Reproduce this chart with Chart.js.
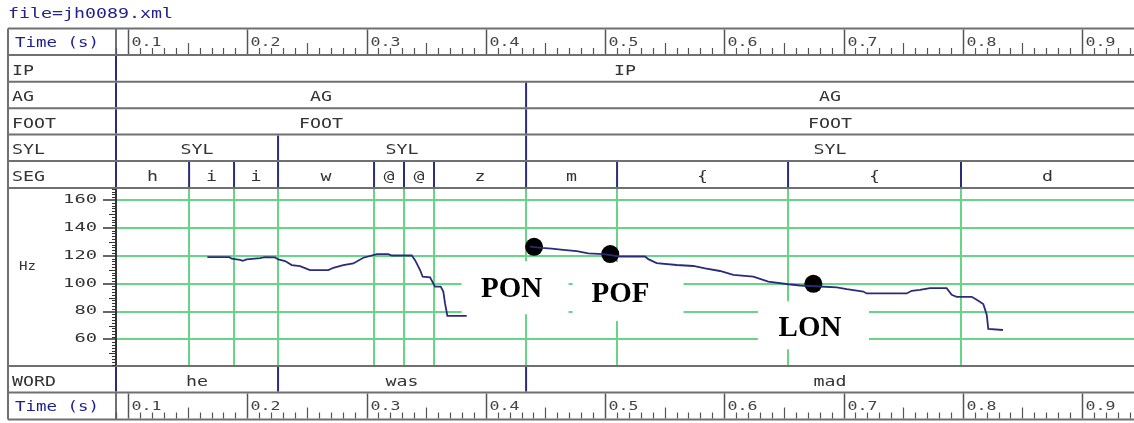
<!DOCTYPE html>
<html>
<head>
<meta charset="utf-8">
<script src="https://cdn.jsdelivr.net/npm/chart.js@4.4.1/dist/chart.umd.min.js"></script>
<style>
  html, body { margin: 0; padding: 0; background: #fff; }
  #wrap { width: 1134px; height: 423px; }
</style>
</head>
<body>
<div id="wrap"><canvas id="f0Chart" width="1134" height="423"></canvas></div>
<script>
// utterance file + time window (s)
var fileName = 'file=jh0089.xml';
var tStart = 0.0899;
var tEnd = 0.9436;

// annotation tiers: labels and start times (each item runs to the next start / tEnd)
var ipLabels = ['IP'];
var ipStarts = [0.0899];
var agLabels = ['AG', 'AG'];
var agStarts = [0.0899, 0.4338];
var footLabels = ['FOOT', 'FOOT'];
var footStarts = [0.0899, 0.4338];
var sylLabels = ['SYL', 'SYL', 'SYL'];
var sylStarts = [0.0899, 0.2258, 0.4338];
var segLabels = ['h', 'i', 'i', 'w', '@', '@', 'z', 'm', '{', '{', 'd'];
var segStarts = [0.0899, 0.1512, 0.1889, 0.2258, 0.3063, 0.3314, 0.3566, 0.4338, 0.5101, 0.6535, 0.7985];
var wordLabels = ['he', 'was', 'mad'];
var wordStarts = [0.0899, 0.2258, 0.4338];

// Hz axis
var hzMin = 41;
var hzMax = 168.6;
var hzTicks = [60, 80, 100, 120, 140, 160];

// F0 contour, voiced stretch 1 ("he was")
var f0Time1 = [0.1665, 0.1849, 0.1870, 0.1939, 0.1962, 0.1995, 0.2107, 0.2149, 0.2233, 0.2260,
               0.2317, 0.2373, 0.2442, 0.2526, 0.2680, 0.2722, 0.2805, 0.2889, 0.2973, 0.3057,
               0.3086, 0.3183, 0.3211, 0.3379, 0.3407, 0.3449, 0.3471, 0.3533, 0.3574, 0.3622,
               0.3644, 0.3658, 0.3678, 0.3840];
var f0Hz1 = [119.0, 119.0, 117.9, 117.1, 116.4, 117.4, 118.3, 119.0, 118.8, 117.4,
             116.2, 113.3, 112.6, 109.8, 109.8, 111.4, 113.3, 114.5, 118.6, 120.5,
             121.2, 121.2, 120.2, 120.2, 116.9, 109.8, 105.0, 104.5, 97.9, 97.9,
             94.3, 86.0, 76.9, 76.9];

// F0 contour, voiced stretch 2 ("mad")
var f0Time2 = [0.4370, 0.4469, 0.4553, 0.4650, 0.4763, 0.4860, 0.4986, 0.5126, 0.5335, 0.5363,
               0.5433, 0.5601, 0.5740, 0.5839, 0.5964, 0.6076, 0.6244, 0.6369, 0.6537, 0.6635,
               0.6803, 0.6943, 0.7027, 0.7166, 0.7194, 0.7530, 0.7572, 0.7641, 0.7725, 0.7865,
               0.7907, 0.7949, 0.8075, 0.8117, 0.8172, 0.8201, 0.8214, 0.8337];
var f0Hz2 = [126.5, 125.7, 125.2, 124.3, 123.3, 121.7, 121.2, 119.5, 119.5, 117.6,
             114.8, 113.4, 112.7, 111.0, 109.1, 106.3, 105.1, 101.5, 99.6, 98.7,
             98.0, 97.3, 96.1, 94.4, 93.0, 93.0, 94.9, 95.6, 96.8, 96.8,
             92.0, 90.6, 90.6, 88.5, 85.4, 77.8, 67.6, 66.8];

// pitch targets
var targetNames = ['PON', 'POF', 'LON'];
var targetTime = [0.4405, 0.5044, 0.6747];
var targetHz = [126.4, 121.2, 99.9];
var targetLabelTime = [0.4216, 0.5130, 0.6719];
var targetLabelHz = [96.0, 92.6, 68.0];
// white box around each target label: [left, right, up, down] in px from the text centre
var targetBoxPad = [[50, 57, 28, 25], [48, 63, 32, 27], [52, 59, 27, 21]];

// row edges (px)
var ROW = {
  time1: [28.5, 55], ip: [55, 81.7], ag: [81.7, 108.3], foot: [108.3, 134.6],
  syl: [134.6, 161], seg: [161, 188], word: [366, 392.5], time2: [392.5, 419.5]
};
var rowLines = [28.5, 55, 81.7, 108.3, 134.6, 161, 188, 366, 392.5, 419.5];

var GREEN = '#66d585';
var NAVY = '#2b2b7c';
var FRAME = '#707070';
var INK = '#333333';

function pts(ts, vs) {
  return ts.map(function (t, i) { return { x: t, y: vs[i] }; });
}

// wide monospaced text, like the old bitmap font of the label viewer
function pixText(ctx, str, x, y, opt) {
  ctx.save();
  ctx.font = (opt.size || 14) + 'px "DejaVu Sans Mono", monospace';
  ctx.fillStyle = opt.color || INK;
  ctx.textBaseline = opt.baseline || 'alphabetic';
  ctx.textAlign = 'left';
  var adv = opt.adv || 11;
  var sx = adv / ctx.measureText('M').width;
  var w = adv * str.length;
  var x0 = x;
  if (opt.align === 'center') x0 = x - w / 2;
  if (opt.align === 'right') x0 = x - w;
  ctx.translate(x0, y);
  ctx.scale(sx, 1);
  ctx.fillText(str, 0, 0);
  ctx.restore();
}

function hline(ctx, x1, x2, y, color, w) {
  ctx.strokeStyle = color; ctx.lineWidth = w;
  ctx.beginPath(); ctx.moveTo(x1, y); ctx.lineTo(x2, y); ctx.stroke();
}
function vline(ctx, x, y1, y2, color, w) {
  ctx.strokeStyle = color; ctx.lineWidth = w;
  ctx.beginPath(); ctx.moveTo(x, y1); ctx.lineTo(x, y2); ctx.stroke();
}

function drawTier(ctx, xs, row, name, labels, starts) {
  pixText(ctx, name, 12, row[0] + 19.5, { size: 14, adv: 11 });
  for (var i = 0; i < starts.length; i++) {
    var x0 = xs.getPixelForValue(starts[i]);
    var x1 = xs.getPixelForValue(i + 1 < starts.length ? starts[i + 1] : tEnd);
    pixText(ctx, labels[i], (x0 + x1) / 2, row[0] + 19.5, { size: 14, adv: 11, align: 'center' });
    vline(ctx, x0, row[0] + 1, row[1] - 1, NAVY, 2);
  }
}

function drawRuler(ctx, xs, row) {
  pixText(ctx, 'Time (s)', 15, row[0] + 18.5, { size: 14, adv: 10.5, color: '#1e1e8e' });
  vline(ctx, 116, row[0], row[1], FRAME, 2);
  for (var i = 9; i <= 94; i++) {
    var x = Math.round(xs.getPixelForValue(i / 100)) + 0.5;
    if (i % 10 === 0) {
      vline(ctx, x, row[0] + 1, row[1] - 1, '#555', 1.5);
      pixText(ctx, (i / 100).toFixed(1), x + 3, row[0] + 17, { size: 13, adv: 10, color: '#444' });
    } else if (i % 5 === 0) {
      vline(ctx, x, row[1] - 12, row[1] - 1, '#555', 1.2);
    } else {
      vline(ctx, x, row[1] - 7, row[1] - 1, '#555', 1.2);
    }
  }
}

var emuLayout = {
  id: 'emuLayout',
  beforeDraw: function (chart) {
    var ctx = chart.ctx;
    ctx.save();
    ctx.fillStyle = '#fff';
    ctx.fillRect(0, 0, chart.width, chart.height);
    ctx.restore();
  },
  beforeDatasetsDraw: function (chart) {
    // white label boxes break the grid behind the target names
    var ctx = chart.ctx, xs = chart.scales.x, ys = chart.scales.y;
    ctx.save();
    for (var i = 0; i < targetNames.length; i++) {
      var cx = xs.getPixelForValue(targetLabelTime[i]);
      var cy = ys.getPixelForValue(targetLabelHz[i]);
      var p = targetBoxPad[i];
      ctx.fillStyle = '#fff';
      ctx.fillRect(cx - p[0], cy - p[2], p[0] + p[1], p[2] + p[3]);
      ctx.fillStyle = '#000';
      ctx.font = 'bold 29px "Liberation Serif", "Times New Roman", serif';
      ctx.textAlign = 'center';
      ctx.textBaseline = 'middle';
      ctx.fillText(targetNames[i], cx, cy);
    }
    ctx.restore();
  },
  afterDraw: function (chart) {
    var ctx = chart.ctx, xs = chart.scales.x, ys = chart.scales.y;
    var right = chart.width;
    ctx.save();

    pixText(ctx, fileName, 8, 18, { size: 14, adv: 11, color: '#22228a' });

    // table frame
    rowLines.forEach(function (y) { hline(ctx, 8, right, y, FRAME, 2); });
    vline(ctx, 8, rowLines[0], rowLines[rowLines.length - 1], FRAME, 2);

    drawRuler(ctx, xs, ROW.time1);
    drawRuler(ctx, xs, ROW.time2);
    drawTier(ctx, xs, ROW.ip, 'IP', ipLabels, ipStarts);
    drawTier(ctx, xs, ROW.ag, 'AG', agLabels, agStarts);
    drawTier(ctx, xs, ROW.foot, 'FOOT', footLabels, footStarts);
    drawTier(ctx, xs, ROW.syl, 'SYL', sylLabels, sylStarts);
    drawTier(ctx, xs, ROW.seg, 'SEG', segLabels, segStarts);
    drawTier(ctx, xs, ROW.word, 'WORD', wordLabels, wordStarts);

    // Hz axis: minor ticks and labels
    var axX = chart.chartArea.left;
    for (var v = 42; v <= 168; v += 2) {
      if (v % 20 === 0 && v >= 60 && v <= 160) continue;
      var y = Math.round(ys.getPixelForValue(v)) + 0.5;
      hline(ctx, axX - (v % 10 === 0 ? 7 : 4), axX, y, INK, 1);
    }
    ys.ticks.forEach(function (tk) {
      pixText(ctx, String(tk.value), 97, ys.getPixelForValue(tk.value) - 0.5,
        { size: 13, adv: 11.3, align: 'right', baseline: 'middle' });
    });
    pixText(ctx, 'Hz', 19, 267, { size: 13, adv: 8.5, baseline: 'middle' });

    ctx.restore();
  }
};

new Chart(document.getElementById('f0Chart'), {
  type: 'scatter',
  data: {
    datasets: [
      {
        label: 'F0',
        data: pts(f0Time1, f0Hz1),
        showLine: true,
        borderColor: NAVY,
        borderWidth: 1.8,
        pointRadius: 0,
        tension: 0
      },
      {
        label: 'F0',
        data: pts(f0Time2, f0Hz2),
        showLine: true,
        borderColor: NAVY,
        borderWidth: 1.8,
        pointRadius: 0,
        tension: 0
      },
      {
        label: 'targets',
        data: pts(targetTime, targetHz),
        showLine: false,
        pointRadius: 9,
        pointBackgroundColor: '#000',
        pointBorderColor: '#000',
        pointBorderWidth: 0
      }
    ]
  },
  options: {
    responsive: false,
    animation: false,
    devicePixelRatio: 1,
    layout: { autoPadding: false, padding: { top: 188, left: 0, right: 0, bottom: 0 } },
    plugins: { legend: { display: false }, tooltip: { enabled: false } },
    scales: {
      x: {
        type: 'linear',
        min: tStart,
        max: tEnd,
        afterBuildTicks: function (scale) {
          scale.ticks = segStarts.map(function (t) { return { value: t }; });
        },
        afterFit: function (scale) { scale.height = 57; },
        ticks: { display: false },
        grid: { color: GREEN, lineWidth: 2, drawTicks: false },
        border: { display: false }
      },
      y: {
        min: hzMin,
        max: hzMax,
        afterBuildTicks: function (scale) {
          scale.ticks = hzTicks.map(function (v) { return { value: v }; });
        },
        afterFit: function (scale) { scale.width = 116; },
        ticks: { display: false },
        grid: { color: GREEN, lineWidth: 2, tickLength: 13, tickColor: INK, tickWidth: 1.5 },
        border: { display: true, color: INK, width: 2 }
      }
    }
  },
  plugins: [emuLayout]
});
</script>
</body>
</html>
